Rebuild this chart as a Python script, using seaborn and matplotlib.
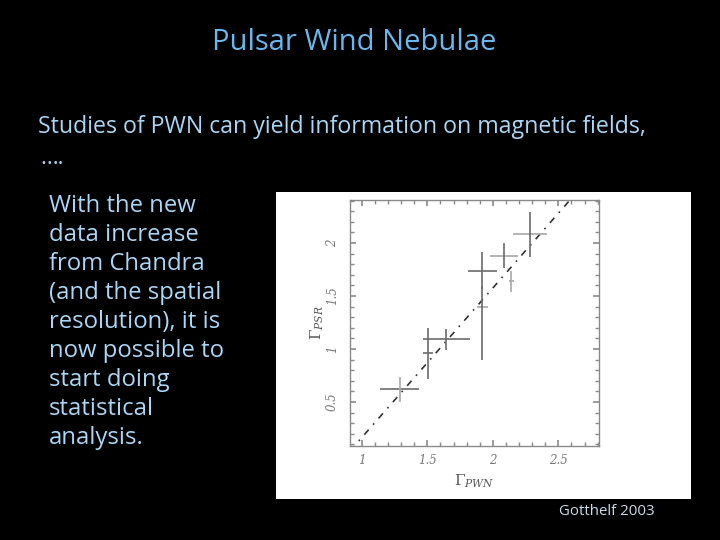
import numpy as np
import matplotlib
matplotlib.use("Agg")
import matplotlib.pyplot as plt
import seaborn as sns
from matplotlib.ticker import MultipleLocator, FixedLocator

gamma_pwn = [1.29, 1.505, 1.645, 1.92, 1.92, 2.086, 2.14, 2.28]
gamma_psr = [0.62, 0.96, 1.09, 1.74, 1.40, 1.88, 1.64, 2.08]
pwn_err = [0.15, 0.04, 0.18, 0.11, 0.04, 0.105, 0.02, 0.13]
psr_err_lo = [0.12, 0.24, 0.10, 0.17, 0.50, 0.115, 0.10, 0.215]
psr_err_hi = [0.12, 0.24, 0.10, 0.17, 0.19, 0.115, 0.10, 0.215]

# fitted relation (dash-dot line)
fit_slope = 1.41
fit_intercept = -1.245

x_ticks = [1, 1.5, 2, 2.5]
y_ticks = [0.5, 1, 1.5, 2]

body_lines = ["With the new", "data increase", "from Chandra", "(and the spatial",
              "resolution), it is", "now possible to", "start doing",
              "statistical", "analysis."]

# === Styles ===
dark = "#6b6b6b"
light = "#a8a8a8"
x_colors = [dark, dark, dark, dark, light, light, light, light]
y_colors = [light, dark, dark, dark, dark, dark, light, dark]

sns.set_style("white")
plt.rcParams["mathtext.fontset"] = "dejavuserif"

fig = plt.figure(figsize=(7.2, 5.4), dpi=100)
fig.patch.set_facecolor("black")

title_color = "#6ab6ec"
text_color = "#a9d6f5"
font = "Open Sans"

fig.text(354 / 720, 1 - 50 / 540, "Pulsar Wind Nebulae", color=title_color,
         fontsize=21, ha="center", va="baseline", family=font)
fig.text(38 / 720, 1 - 133 / 540, "Studies of PWN can yield information on magnetic fields,",
         color=text_color, fontsize=16.7, ha="left", va="baseline", family=font)
fig.text(40 / 720, 1 - 164 / 540, "….", color=text_color, fontsize=16.5,
         ha="left", va="baseline", family=font)
for i, line in enumerate(body_lines):
    fig.text(49 / 720, 1 - (212 + 29 * i) / 540, line, color=text_color,
             fontsize=17.2, ha="left", va="baseline", family=font)
fig.text(559 / 720, 1 - 515 / 540, "Gotthelf 2003", color="#c9dceb",
         fontsize=10.8, ha="left", va="baseline", family=font)

# white picture box
bg = fig.add_axes([276 / 720, 1 - 499 / 540, 415 / 720, 307 / 540])
bg.set_facecolor("white")
bg.set_xticks([])
bg.set_yticks([])
for s in bg.spines.values():
    s.set_visible(False)

ax = fig.add_axes([350 / 720, 1 - 446 / 540, 249 / 720, 246 / 540])
ax.set_facecolor("white")
ax.set_xlim(0.91, 2.81)
ax.set_ylim(0.085, 2.405)

# fit line
fit_x = np.array(ax.get_xlim())
sns.lineplot(x=fit_x, y=fit_slope * fit_x + fit_intercept, ax=ax, color="#333333",
             lw=1.2, linestyle=(0, (4, 4, 1, 4)))

for i in range(len(gamma_pwn)):
    ax.errorbar(gamma_pwn[i], gamma_psr[i], xerr=pwn_err[i], fmt="none",
                ecolor=x_colors[i], elinewidth=1.2, capsize=0)
    ax.errorbar(gamma_pwn[i], gamma_psr[i],
                yerr=[[psr_err_lo[i]], [psr_err_hi[i]]], fmt="none",
                ecolor=y_colors[i], elinewidth=1.2, capsize=0)

for s in ax.spines.values():
    s.set_color("#8a8a8a")
    s.set_linewidth(1.0)

ax.xaxis.set_major_locator(FixedLocator(x_ticks))
ax.yaxis.set_major_locator(FixedLocator(y_ticks))
ax.xaxis.set_minor_locator(MultipleLocator(0.1))
ax.yaxis.set_minor_locator(MultipleLocator(0.1))
ax.tick_params(which="both", direction="in", top=True, right=True,
               bottom=True, left=True, color="#8a8a8a")
ax.tick_params(which="major", length=4, width=1.2)
ax.tick_params(which="minor", length=3, width=1.0)
ax.set_xticklabels([f"{t:g}" for t in x_ticks], family="DejaVu Serif",
                   style="italic", fontsize=8.5, color="#777777")
ax.set_yticklabels([f"{t:g}" for t in y_ticks], family="DejaVu Serif",
                   style="italic", fontsize=8.5, color="#777777",
                   rotation=90, va="center")
ax.tick_params(axis="x", pad=6)
ax.tick_params(axis="y", pad=8)

ax.set_xlabel(r"$\Gamma_{PWN}$", fontsize=11, color="#555555", labelpad=4)
ax.set_ylabel(r"$\Gamma_{PSR}$", fontsize=11, color="#555555", labelpad=0)

fig.savefig("out.png", dpi=100, facecolor="black")
